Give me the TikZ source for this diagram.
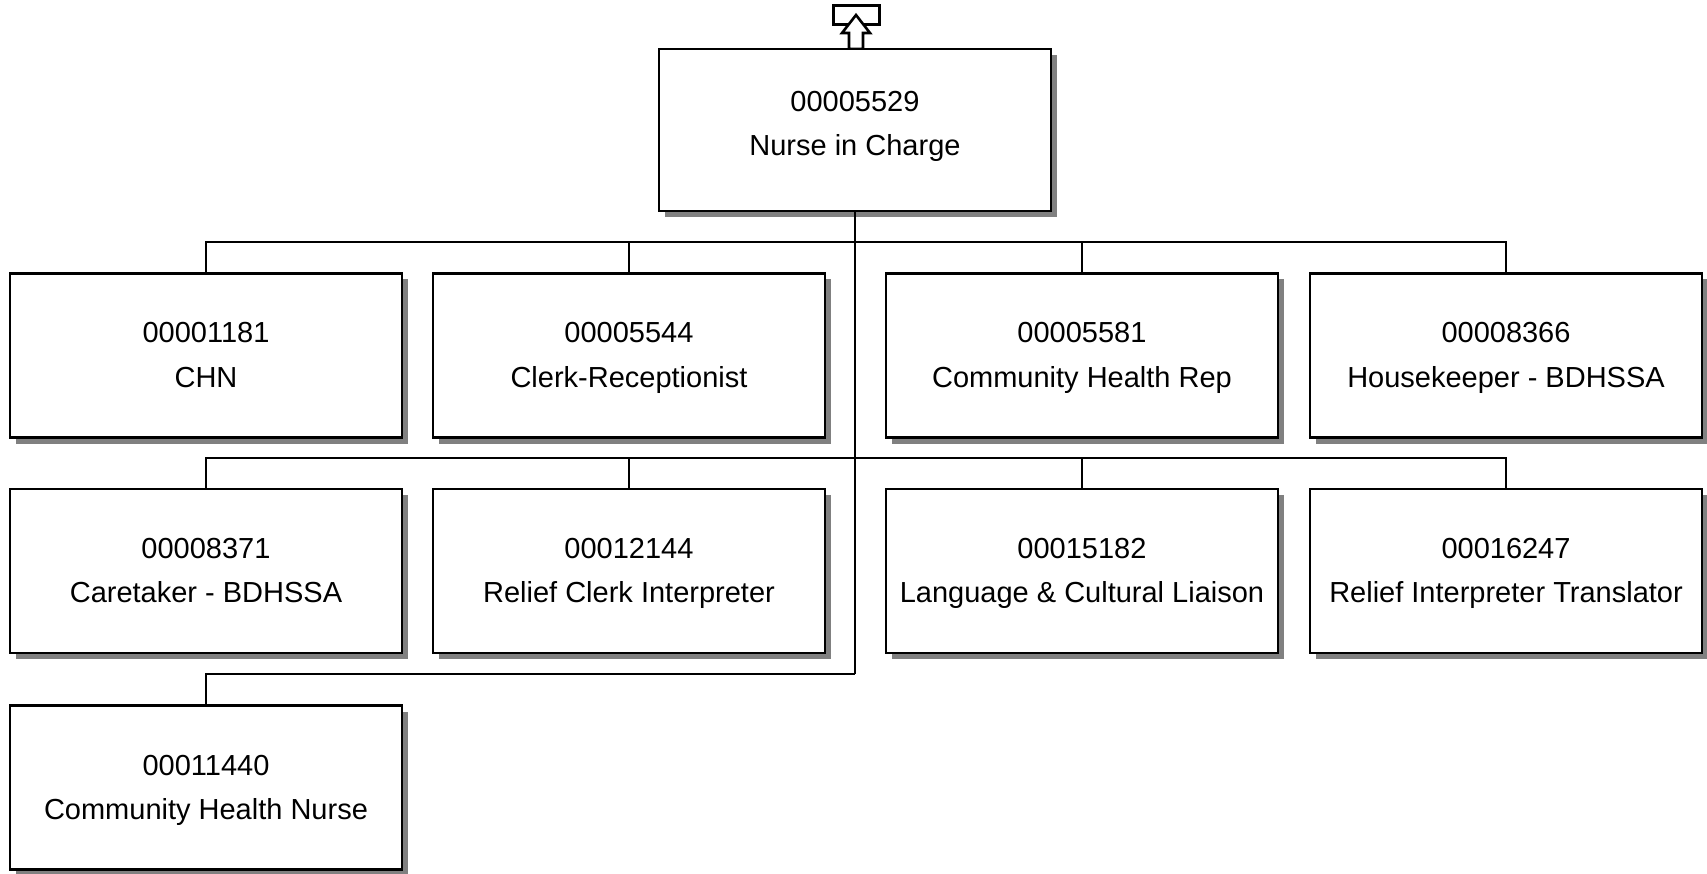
\documentclass[tikz,border=0pt]{standalone}
\usepackage{fontspec}
\setmainfont{Liberation Sans}
\usetikzlibrary{shadows}
\newcommand{\lineA}[1]{\rule{0pt}{31pt}#1}
\newcommand{\lineB}[1]{\rule[-12pt]{0pt}{1pt}#1}
\newcommand{\lineT}[1]{\rule[-23pt]{0pt}{1pt}#1}
\begin{document}
\begin{tikzpicture}[x=1pt,y=-1pt,
  posbox/.style={draw=black, line width=2.2pt, fill=white, minimum width=392pt, minimum height=164pt,
    inner sep=0pt, align=center, font=\fontsize{29}{44}\selectfont,
    drop shadow={shadow xshift=6pt, shadow yshift=-6pt, fill=black!50, opacity=1}},
  conn/.style={line width=1.8pt, draw=black}]
\useasboundingbox (0,0) rectangle (1707,874);
% top icon
\draw[line width=3pt, fill=white] (833,6) rectangle (879,25);
\draw[line width=2.6pt, fill=white, line join=miter] (856,15) -- (870,33) -- (863,33) -- (863,49) -- (849,49) -- (849,33) -- (842,33) -- cycle;
% nodes
\node[posbox, minimum height=162pt] (top) at (855,130) {\lineA{00005529}\\\lineT{Nurse in Charge}};
\node[posbox] (a1) at (206,355.5) {\lineA{00001181}\\\lineB{CHN}};
\node[posbox] (a2) at (629,355.5) {\lineA{00005544}\\\lineB{Clerk-Receptionist}};
\node[posbox] (a3) at (1082,355.5) {\lineA{00005581}\\\lineB{Community Health Rep}};
\node[posbox] (a4) at (1506,355.5) {\lineA{00008366}\\\lineB{Housekeeper - BDHSSA}};
\node[posbox] (b1) at (206,571) {\lineA{00008371}\\\lineB{Caretaker - BDHSSA}};
\node[posbox] (b2) at (629,571) {\lineA{00012144}\\\lineB{Relief Clerk Interpreter}};
\node[posbox] (b3) at (1082,571) {\lineA{00015182}\\\lineB{Language \& Cultural Liaison}};
\node[posbox] (b4) at (1506,571) {\lineA{00016247}\\\lineB{Relief Interpreter Translator}};
\node[posbox] (c1) at (206,787.5) {\lineA{00011440}\\\lineB{Community Health Nurse}};
% connectors
\coordinate (spineEnd) at (top.south |- 0,674);
\draw[conn] (top.south) -- (spineEnd);
\draw[conn] (a1.north) -- (a1.north |- 0,242) -- (a4.north |- 0,242) -- (a4.north);
\draw[conn] (a2.north) -- (a2.north |- 0,242);
\draw[conn] (a3.north) -- (a3.north |- 0,242);
\draw[conn] (b1.north) -- (b1.north |- 0,458) -- (b4.north |- 0,458) -- (b4.north);
\draw[conn] (b2.north) -- (b2.north |- 0,458);
\draw[conn] (b3.north) -- (b3.north |- 0,458);
\draw[conn] (c1.north) -- (c1.north |- 0,674) -- (spineEnd);
\end{tikzpicture}
\end{document}
